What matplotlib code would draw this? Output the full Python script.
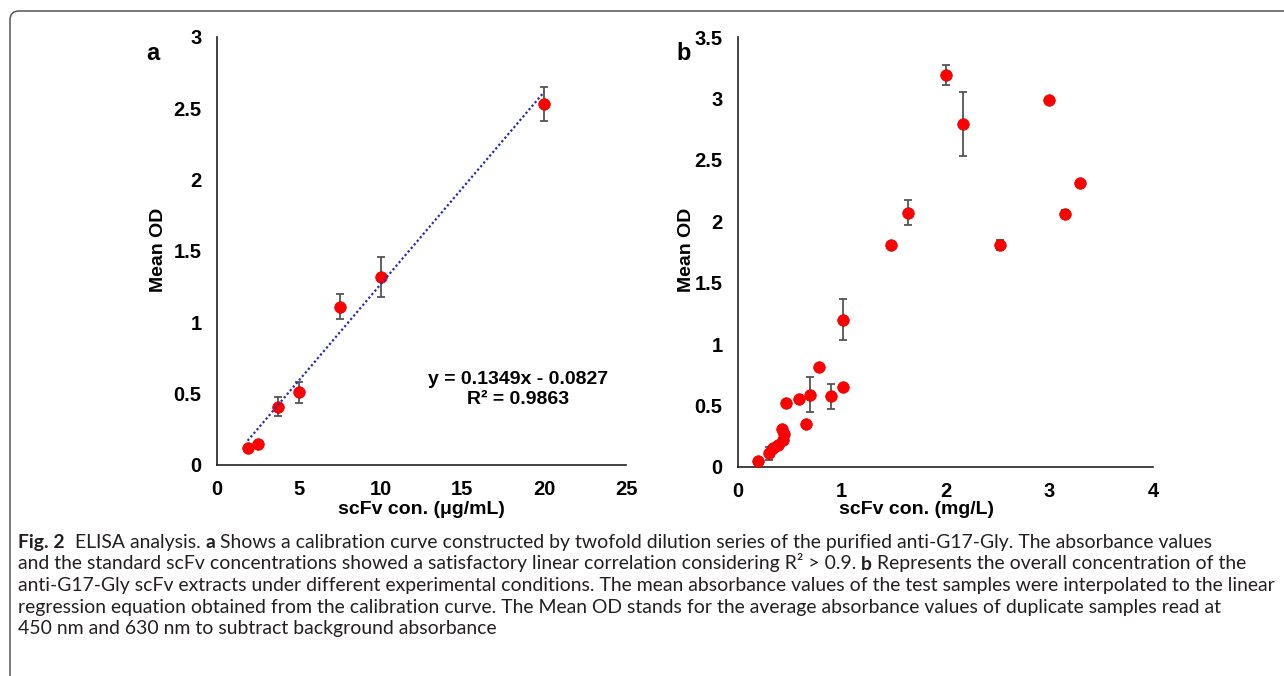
import matplotlib
matplotlib.use("Agg")
import matplotlib.pyplot as plt
from matplotlib.patches import FancyBboxPatch
from matplotlib.transforms import IdentityTransform
import numpy as np

plt.rcParams['font.family'] = ['Liberation Sans', 'DejaVu Sans']

# ---- panel a: calibration curve ----
conc_a = [1.875, 2.5, 3.75, 5, 7.5, 10, 20]
od_a = [0.12, 0.15, 0.41, 0.51, 1.11, 1.32, 2.53]
err_a = [0.02, 0.02, 0.065, 0.075, 0.09, 0.14, 0.12]
slope_a = 0.1349
intercept_a = -0.0827
r2_a = 0.9863

# ---- panel b: test samples ----
conc_b = [0.19, 0.30, 0.34, 0.385, 0.43, 0.42, 0.44, 0.46, 0.59, 0.66, 0.69,
          0.78, 0.90, 1.01, 1.01, 1.47, 1.64, 2.0, 2.17, 2.53, 3.0, 3.155, 3.30]
od_b = [0.05, 0.11, 0.155, 0.18, 0.22, 0.31, 0.27, 0.52, 0.55, 0.35, 0.59,
        0.81, 0.575, 0.65, 1.20, 1.81, 2.07, 3.19, 2.79, 1.81, 2.99, 2.06, 2.31]
err_b = [0.01, 0.05, 0.02, 0.02, 0.02, 0.02, 0.02, 0.01, 0.02, 0.02, 0.145,
         0.02, 0.10, 0.02, 0.165, 0.02, 0.10, 0.08, 0.26, 0.04, 0.01, 0.03, 0.01]

caption_lines = [
    [("Fig. 2", True), ("  ELISA analysis. ", False), ("a", True),
     (" Shows a calibration curve constructed by twofold dilution series of the purified anti-G17-Gly. The absorbance values", False)],
    [("and the standard scFv concentrations showed a satisfactory linear correlation considering R\u00b2 > 0.9. ", False),
     ("b", True), (" Represents the overall concentration of the", False)],
    [("anti-G17-Gly scFv extracts under different experimental conditions. The mean absorbance values of the test samples were interpolated to the linear", False)],
    [("regression equation obtained from the calibration curve. The Mean OD stands for the average absorbance values of duplicate samples read at", False)],
    [("450 nm and 630 nm to subtract background absorbance", False)],
]

W, H = 1284, 676
fig = plt.figure(figsize=(W / 100, H / 100), dpi=100)


def px_axes(l, t, r, b):
    return fig.add_axes([l / W, 1 - b / H, (r - l) / W, (b - t) / H])


def style(ax):
    for s in ['top', 'right']:
        ax.spines[s].set_visible(False)
    for s in ['left', 'bottom']:
        ax.spines[s].set_linewidth(1.2)
        ax.spines[s].set_color('#222222')
    ax.tick_params(length=0, pad=11, labelsize=14.5)
    for lab in ax.get_xticklabels() + ax.get_yticklabels():
        lab.set_fontweight('bold')


err_kw = dict(fmt='none', ecolor='#555555', elinewidth=1.3, capsize=3, capthick=1.3, zorder=2)
mk_kw = dict(marker='o', s=70, color='#ff0000', edgecolors='#e00000', linewidths=0.5, zorder=3)

# panel a
ax1 = px_axes(217, 37, 626, 465)
ax1.errorbar(conc_a, od_a, yerr=err_a, **err_kw)
ax1.scatter(conc_a, od_a, **mk_kw)
xfit = np.array([min(conc_a), max(conc_a)])
ax1.plot(xfit, slope_a * xfit + intercept_a, color='#2b2bb0', lw=1.6,
         linestyle=(0, (1, 1.1)), zorder=4)
ax1.set_xlim(0, 25)
ax1.set_ylim(0, 3)
ax1.set_xticks([0, 5, 10, 15, 20, 25])
ax1.set_yticks([0, 0.5, 1, 1.5, 2, 2.5, 3])
ax1.set_yticklabels(['0', '0.5', '1', '1.5', '2', '2.5', '3'])
style(ax1)
ax1.text(18.4, 0.53, f"y = {slope_a}x - {abs(intercept_a)}\nR\u00b2 = {r2_a}",
         ha='center', va='center', fontsize=14, fontweight='bold', linespacing=1.25)
ax1.set_xlabel("scFv con. (\u03bcg/mL)", fontsize=14, fontweight='bold', va='center')
ax1.xaxis.set_label_coords(0.499, -0.105)
ax1.set_ylabel("Mean OD", fontsize=14, fontweight='bold', va='center')
ax1.yaxis.set_label_coords(-0.142, 0.502)

# panel b
ax2 = px_axes(738, 37, 1153, 467)
ax2.errorbar(conc_b, od_b, yerr=err_b, **err_kw)
ax2.scatter(conc_b, od_b, **mk_kw)
ax2.set_xlim(0, 4)
ax2.set_ylim(0, 3.5)
ax2.set_xticks([0, 1, 2, 3, 4])
ax2.set_yticks([0, 0.5, 1, 1.5, 2, 2.5, 3, 3.5])
ax2.set_yticklabels(['0', '0.5', '1', '1.5', '2', '2.5', '3', '3.5'])
style(ax2)
ax2.set_xlabel("scFv con. (mg/L)", fontsize=14, fontweight='bold', va='center')
ax2.xaxis.set_label_coords(0.429, -0.1)
ax2.set_ylabel("Mean OD", fontsize=14, fontweight='bold', va='center')
ax2.yaxis.set_label_coords(-0.125, 0.504)

fig.text(153 / W, 1 - 54 / H, "a", fontsize=17, fontweight='bold', ha='center', va='center')
fig.text(684 / W, 1 - 54 / H, "b", fontsize=17, fontweight='bold', ha='center', va='center')

# rounded frame around the figure (open at right/bottom edge)
frame = FancyBboxPatch((10, -10), 1300, 665 - (-10), boxstyle="round,pad=0,rounding_size=9",
                       transform=IdentityTransform(), fill=False, edgecolor='#555555',
                       lw=1.1, clip_on=False)
fig.patches.append(frame)

# caption, fitted to the reference line width
renderer = fig.canvas.get_renderer()
cap_font = ['Liberation Sans Narrow', 'Lato', 'DejaVu Sans']
probe = fig.text(0, 0, caption_lines[2][0][0], fontsize=12, family=cap_font,
                 transform=IdentityTransform())
cap_size = 12 * 1254 / probe.get_window_extent(renderer).width
probe.remove()

baselines = [548, 569.5, 591, 612.5, 634]
for segs, yb in zip(caption_lines, baselines):
    x = 18
    for txt, bold in segs:
        t = fig.text(x, H - yb, txt, fontsize=cap_size, family=cap_font,
                     fontweight='bold' if bold else 'normal', color='#231f20',
                     ha='left', va='baseline', transform=IdentityTransform())
        x = t.get_window_extent(renderer).x1

fig.savefig("out.png", dpi=100)
